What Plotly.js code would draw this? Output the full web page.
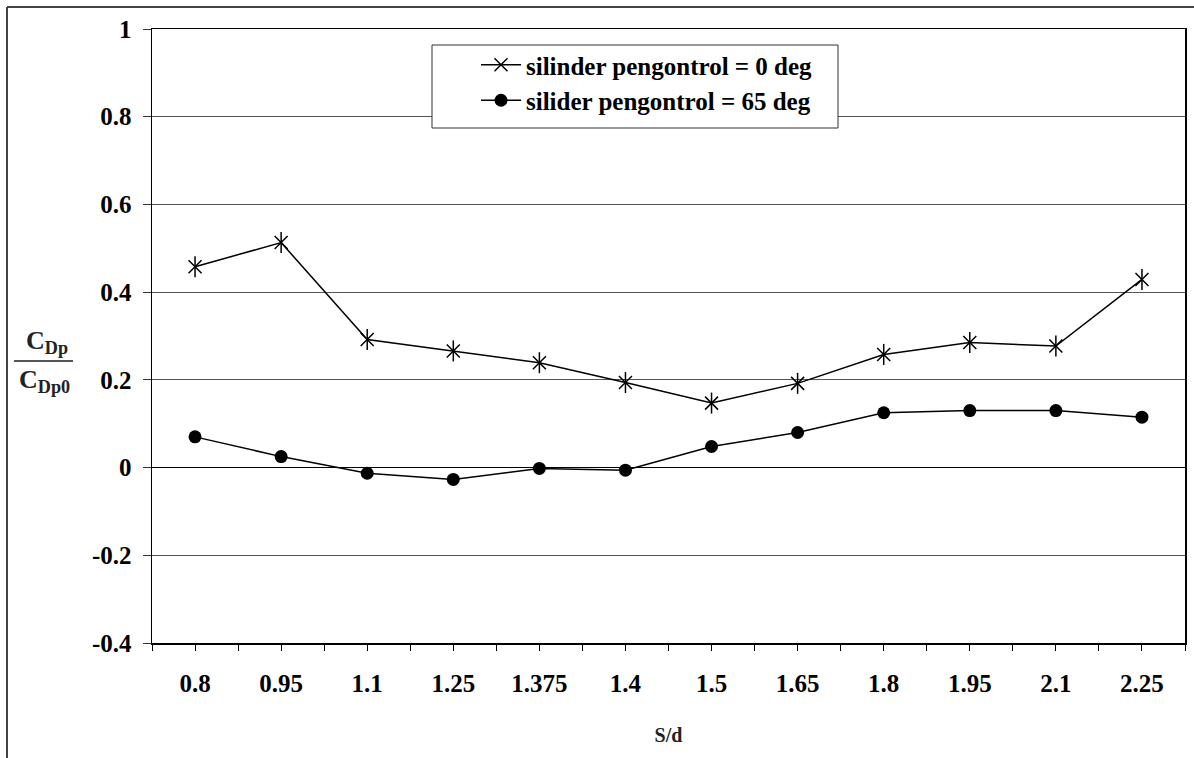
<!DOCTYPE html>
<html>
<head>
<meta charset="utf-8">
<script src="https://cdn.plot.ly/plotly-3.0.1.min.js"></script>
<style>
  html, body { margin: 0; padding: 0; background: #fff; }
  #chart { width: 1194px; height: 758px; }
</style>
</head>
<body>
<div id="chart"></div>
<script>
// ---- data ----
const categories = ["0.8", "0.95", "1.1", "1.25", "1.375", "1.4", "1.5", "1.65", "1.8", "1.95", "2.1", "2.25"];
const series0Name = "silinder pengontrol = 0 deg";
const series0 = [0.458, 0.513, 0.292, 0.266, 0.239, 0.194, 0.147, 0.192, 0.258, 0.285, 0.277, 0.429];
const series65Name = "silider pengontrol = 65 deg";
const series65 = [0.070, 0.025, -0.013, -0.027, -0.002, -0.006, 0.048, 0.080, 0.125, 0.130, 0.130, 0.115];
const yTickVals = [-0.4, -0.2, 0, 0.2, 0.4, 0.6, 0.8, 1];
const yTickText = ["-0.4", "-0.2", "0", "0.2", "0.4", "0.6", "0.8", "1"];

// ---- layout helpers ----
const W = 1194, H = 758;
const M = { l: 152, r: 9, t: 29, b: 115 };
const PW = W - M.l - M.r, PH = H - M.t - M.b;
const px2x = p => (p - M.l) / PW;
const px2y = p => (H - M.b - p) / PH;

const idx = categories.map((_, i) => i);
// minor ticks at category boundaries
const xBoundaries = [];
for (let i = 0; i <= categories.length; i++) xBoundaries.push(i - 0.5);

const FONT = "Liberation Serif";

const traces = [
  {
    x: idx, y: series0, name: series0Name, type: "scatter", mode: "lines+markers",
    line: { color: "#000", width: 1.5 },
    marker: { symbol: "x-thin-open", size: 13, color: "#000", line: { width: 1.5, color: "#000" } }
  },
  {
    x: idx, y: series0, name: series0Name, type: "scatter", mode: "markers", showlegend: false,
    marker: { symbol: "line-ns-open", size: 15, color: "#000", line: { width: 1.5, color: "#000" } },
    hoverinfo: "skip"
  },
  {
    x: idx, y: series65, name: series65Name, type: "scatter", mode: "lines+markers",
    line: { color: "#000", width: 1.5 },
    marker: { symbol: "circle", size: 13, color: "#000" }
  }
];

const layout = {
  width: W, height: H,
  margin: M,
  paper_bgcolor: "#fff", plot_bgcolor: "#fff",
  font: { family: FONT, size: 25, color: "#000" },
  showlegend: true,
  legend: {
    x: px2x(476), y: px2y(42), xanchor: "left", yanchor: "top",
    bgcolor: "rgba(0,0,0,0)", borderwidth: 0,
    itemwidth: 40,
    font: { family: FONT, size: 25, color: "#000", weight: "bold" }
  },
  xaxis: {
    type: "linear", range: [-0.5, categories.length - 0.5],
    tickmode: "array", tickvals: idx, ticktext: categories,
    ticks: "outside", ticklen: 6, tickwidth: 1, tickcolor: "#000",
    minor: { tickmode: "array", tickvals: xBoundaries, ticks: "outside", ticklen: 6, tickwidth: 1, tickcolor: "#000", showgrid: false },
    tickfont: { family: FONT, size: 25, color: "#000", weight: "bold" },
    ticklabelstandoff: 11,
    showgrid: false, zeroline: false,
    showline: true, linecolor: "#000", linewidth: 1.5, mirror: true,
    title: { text: "S/d", font: { family: FONT, size: 20, color: "#222", weight: "bold" }, standoff: 32 }
  },
  yaxis: {
    range: [-0.4, 1],
    tickmode: "array", tickvals: yTickVals, ticktext: yTickText,
    ticks: "outside", ticklen: 8, tickwidth: 1, tickcolor: "#333",
    tickfont: { family: FONT, size: 25, color: "#000", weight: "bold" },
    ticklabelstandoff: 6,
    showgrid: true, gridcolor: "#555", gridwidth: 1,
    zeroline: true, zerolinecolor: "#000", zerolinewidth: 1,
    showline: true, linecolor: "#000", linewidth: 1.5, mirror: true
  },
  annotations: [
    { xref: "paper", yref: "paper", x: px2x(47), y: px2y(342), xanchor: "center", yanchor: "middle",
      text: "<b>C<sub>Dp</sub></b>", showarrow: false, font: { family: FONT, size: 26, color: "#222" } },
    { xref: "paper", yref: "paper", x: px2x(44), y: px2y(381), xanchor: "center", yanchor: "middle",
      text: "<b>C<sub>Dp0</sub></b>", showarrow: false, font: { family: FONT, size: 26, color: "#222" } }
  ],
  shapes: [
    // legend box
    { type: "rect", xref: "paper", yref: "paper", x0: px2x(432), x1: px2x(838), y0: px2y(45), y1: px2y(128),
      fillcolor: "#fff", line: { color: "#333", width: 1 }, layer: "above" },
    // fraction bar
    { type: "line", xref: "paper", yref: "paper", x0: px2x(14), x1: px2x(73), y0: px2y(361), y1: px2y(361),
      line: { color: "#555", width: 2 } },
    // chart-area frame (top and left edges visible)
    { type: "line", xref: "paper", yref: "paper", x0: px2x(7), x1: px2x(1200), y0: px2y(7), y1: px2y(7),
      line: { color: "#444", width: 2 } },
    { type: "line", xref: "paper", yref: "paper", x0: px2x(7), x1: px2x(7), y0: px2y(7), y1: px2y(770),
      line: { color: "#444", width: 2 } }
  ]
};

Plotly.newPlot("chart", traces, layout, { displayModeBar: false, staticPlot: true });
</script>
</body>
</html>
